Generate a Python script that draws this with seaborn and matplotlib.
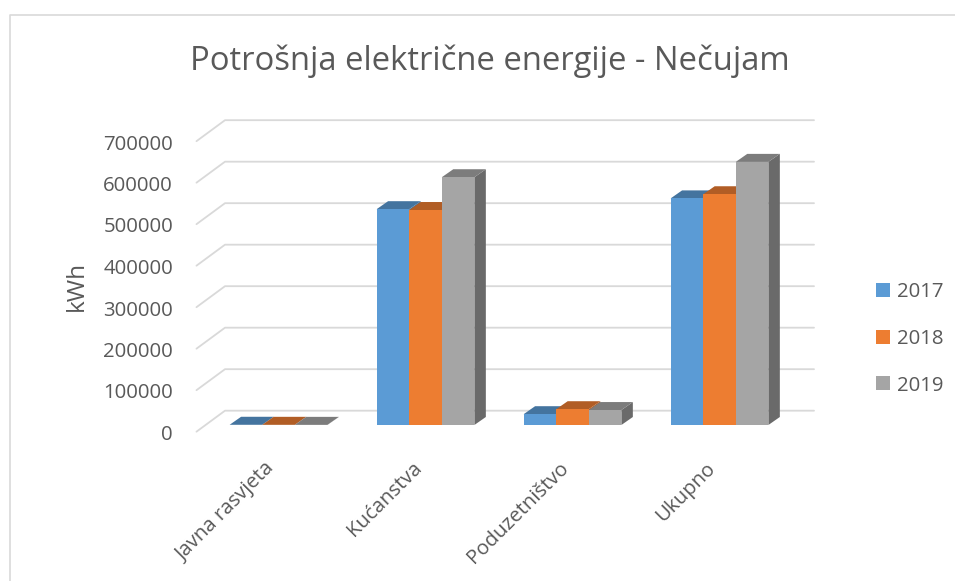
import matplotlib
matplotlib.use("Agg")
import matplotlib.pyplot as plt
import pandas as pd
import seaborn as sns
from matplotlib.lines import Line2D
from matplotlib.patches import Polygon
from matplotlib.transforms import ScaledTranslation

categories = ["Javna rasvjeta", "Kućanstva", "Poduzetništvo", "Ukupno"]
years = ["2017", "2018", "2019"]
values_2017 = [500, 520000, 26000, 546000]
values_2018 = [400, 518000, 38000, 556000]
values_2019 = [300, 597000, 36000, 634000]
y_ticks = [0, 100000, 200000, 300000, 400000, 500000, 600000, 700000]

front_colors = ["#5B9BD5", "#ED7D31", "#A5A5A5"]
top_colors = ["#44749F", "#B15D25", "#7C7C7C"]
side_colors = ["#44749F", "#B15D25", "#6A6A6A"]
text_color = "#595959"
grid_color = "#D9D9D9"

df = pd.DataFrame({
    "category": categories * 3,
    "year": [y for y in years for _ in categories],
    "value": values_2017 + values_2018 + values_2019,
})

sns.set_theme(style="white")
plt.rcParams["font.family"] = ["Open Sans", "DejaVu Sans"]

fig = plt.figure(figsize=(9.55, 5.81), dpi=100)
ax = fig.add_axes([205 / 955, 1 - 425 / 581, 588 / 955, 290.5 / 581])

sns.barplot(data=df, x="category", y="value", hue="year", palette=front_colors,
            width=0.665, gap=0, saturation=1, legend=False, linewidth=0, ax=ax)
ax.set_xlim(-0.5, 3.5)
ax.set_ylim(0, 700000)

# fake 3D depth, all in data units
bar_dx = 0.078
bar_dy = 19300
floor_front = -16100
floor_back = 34500
left_front = -0.558
left_back = -0.364
right_back = 3.643

for tick in y_ticks:
    ax.plot([left_front, left_back, right_back],
            [tick + floor_front, tick + floor_back, tick + floor_back],
            color=grid_color, lw=1.3, clip_on=False, zorder=0)

# each series stacks over the previous one: side, top, then front
for i, bars in enumerate(ax.containers):
    for bar in bars:
        x0 = bar.get_x()
        x1 = x0 + bar.get_width()
        h = bar.get_height()
        top = Polygon([(x0, h), (x1, h), (x1 + bar_dx, h + bar_dy), (x0 + bar_dx, h + bar_dy)],
                      closed=True, fc=top_colors[i], ec="none", clip_on=False, zorder=2 + i * 3)
        side = Polygon([(x1, 0), (x1 + bar_dx, bar_dy), (x1 + bar_dx, h + bar_dy), (x1, h)],
                       closed=True, fc=side_colors[i], ec="none", clip_on=False, zorder=2 + i * 3)
        ax.add_patch(side)
        ax.add_patch(top)
        bar.set_zorder(3 + i * 3)

ax.set_yticks(y_ticks)
ax.set_xlabel("")
ax.set_ylabel("kWh", fontsize=17.5, color=text_color)
ax.yaxis.set_label_coords(-0.198, 0.48)
sns.despine(ax=ax, left=True, bottom=True)
ax.tick_params(axis="y", length=0, pad=23, labelsize=14.7, labelcolor=text_color)
ax.tick_params(axis="x", length=0, pad=24, labelsize=14.7, labelcolor=text_color)

# tick labels sit on the front wall, a little below the bar base
shift = ScaledTranslation(0, -7.5 / 100, fig.dpi_scale_trans)
for label in ax.get_yticklabels():
    label.set_transform(label.get_transform() + shift)
shift_x = ScaledTranslation(-14 / 100, 0, fig.dpi_scale_trans)
for label in ax.get_xticklabels():
    label.set_rotation(45)
    label.set_ha("right")
    label.set_rotation_mode("anchor")
    label.set_transform(label.get_transform() + shift_x)

handles = [plt.Rectangle((0, 0), 1, 1, fc=c, ec="none") for c in front_colors]
fig.legend(handles, years, loc="center left", bbox_to_anchor=(858 / 955, 1 - 339 / 581),
           frameon=False, fontsize=14.7, labelcolor=text_color, handlelength=0.69,
           handleheight=0.69, handletextpad=0.3, labelspacing=1.3)

fig.text(490 / 955, 1 - 61.5 / 581, "Potrošnja električne energije - Nečujam",
         ha="center", va="center", fontsize=23.6, color=text_color)

# chart frame
fig.add_artist(Line2D([9.5 / 955, 9.5 / 955, 955 / 955], [0, 1 - 14.5 / 581, 1 - 14.5 / 581],
                      color=grid_color, lw=1.2))

fig.savefig("out.png", dpi=100)
